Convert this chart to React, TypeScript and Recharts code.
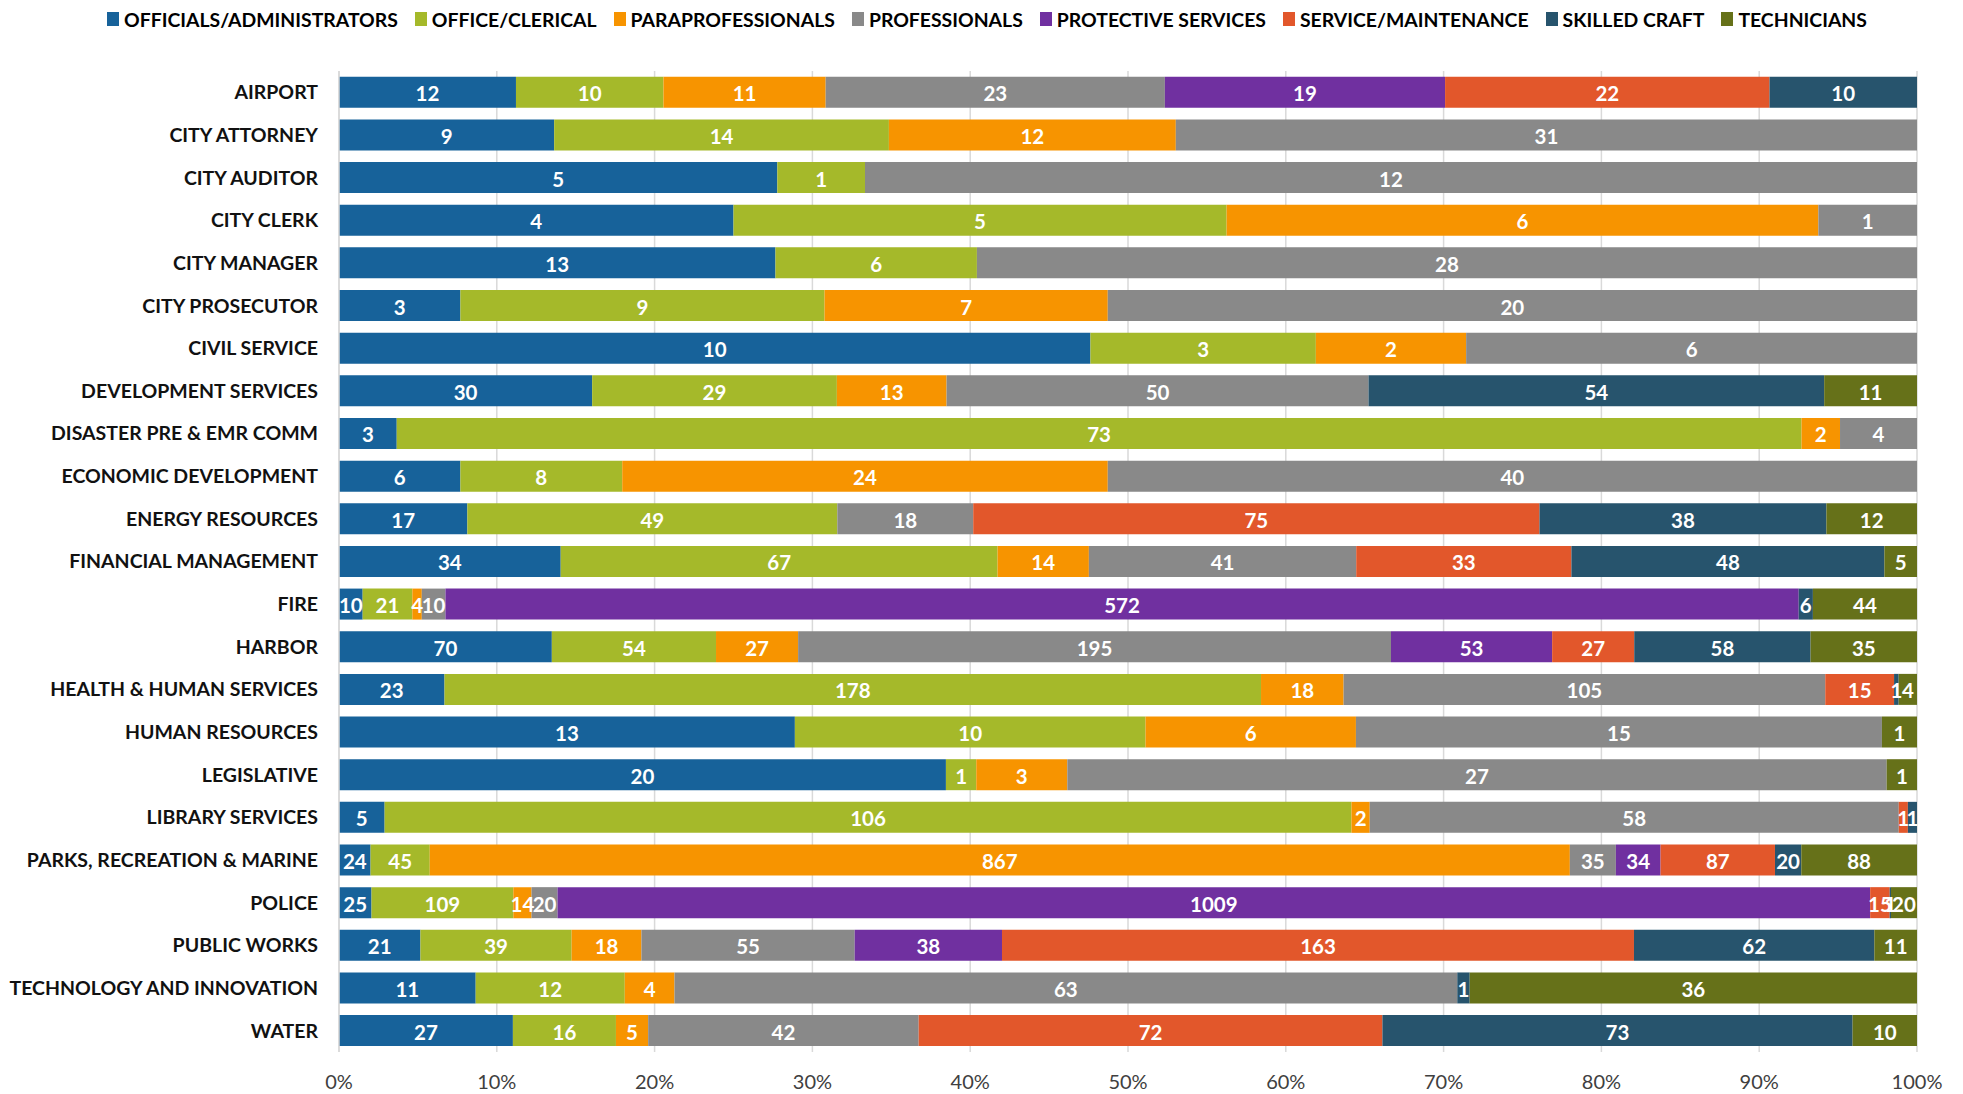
import React from "react";
import { BarChart, Bar, XAxis, YAxis, CartesianGrid, Legend, LabelList } from "recharts";

const categories = [
  "AIRPORT", "CITY ATTORNEY", "CITY AUDITOR", "CITY CLERK", "CITY MANAGER", "CITY PROSECUTOR",
  "CIVIL SERVICE", "DEVELOPMENT SERVICES", "DISASTER PRE & EMR COMM", "ECONOMIC DEVELOPMENT",
  "ENERGY RESOURCES", "FINANCIAL MANAGEMENT", "FIRE", "HARBOR", "HEALTH & HUMAN SERVICES",
  "HUMAN RESOURCES", "LEGISLATIVE", "LIBRARY SERVICES", "PARKS, RECREATION & MARINE", "POLICE",
  "PUBLIC WORKS", "TECHNOLOGY AND INNOVATION", "WATER",
];

const officials = [12, 9, 5, 4, 13, 3, 10, 30, 3, 6, 17, 34, 10, 70, 23, 13, 20, 5, 24, 25, 21, 11, 27];
const office = [10, 14, 1, 5, 6, 9, 3, 29, 73, 8, 49, 67, 21, 54, 178, 10, 1, 106, 45, 109, 39, 12, 16];
const paraprofessionals = [11, 12, 0, 6, 0, 7, 2, 13, 2, 24, 0, 14, 4, 27, 18, 6, 3, 2, 867, 14, 18, 4, 5];
const professionals = [23, 31, 12, 1, 28, 20, 6, 50, 4, 40, 18, 41, 10, 195, 105, 15, 27, 58, 35, 20, 55, 63, 42];
const protective = [19, 0, 0, 0, 0, 0, 0, 0, 0, 0, 0, 0, 572, 53, 0, 0, 0, 0, 34, 1009, 38, 0, 0];
const service = [22, 0, 0, 0, 0, 0, 0, 0, 0, 0, 75, 33, 0, 27, 15, 0, 0, 1, 87, 15, 163, 0, 72];
const skilled = [10, 0, 0, 0, 0, 0, 0, 54, 0, 0, 38, 48, 6, 58, 1, 0, 0, 1, 20, 1, 62, 1, 73];
const technicians = [0, 0, 0, 0, 0, 0, 0, 11, 0, 0, 12, 5, 44, 35, 4, 1, 1, 0, 88, 20, 11, 36, 10];

const xTicks = [0, 0.1, 0.2, 0.3, 0.4, 0.5, 0.6, 0.7, 0.8, 0.9, 1];

const seriesDefs = [
  { key: "officials", name: "OFFICIALS/ADMINISTRATORS", color: "#17629A", values: officials },
  { key: "office", name: "OFFICE/CLERICAL", color: "#A5B92A", values: office },
  { key: "para", name: "PARAPROFESSIONALS", color: "#F79400", values: paraprofessionals },
  { key: "prof", name: "PROFESSIONALS", color: "#898989", values: professionals },
  { key: "protective", name: "PROTECTIVE SERVICES", color: "#7030A0", values: protective },
  { key: "service", name: "SERVICE/MAINTENANCE", color: "#E2572B", values: service },
  { key: "skilled", name: "SKILLED CRAFT", color: "#27546D", values: skilled },
  { key: "tech", name: "TECHNICIANS", color: "#667119", values: technicians },
];

const data = categories.map((name, i) => {
  const row: Record<string, any> = { name };
  seriesDefs.forEach((s) => {
    row[s.key] = s.values[i];
  });
  return row;
});

const FONT = "Lato, 'Open Sans', sans-serif";

const renderLabel = (props: any) => {
  const { x, y, width, height, value } = props;
  if (!value) return null;
  return (
    <text
      x={Number(x) + Number(width) / 2}
      y={Number(y) + Number(height) / 2 + 1}
      fill="#FFFFFF"
      textAnchor="middle"
      dominantBaseline="central"
      fontFamily={FONT}
      fontWeight="bold"
      fontSize={20.5}
    >
      {value}
    </text>
  );
};

const renderLegend = () => (
  <div
    style={{
      display: "flex",
      justifyContent: "center",
      alignItems: "center",
      height: 22,
      paddingLeft: 28,
      fontFamily: FONT,
      fontWeight: "bold",
      fontSize: 19.4,
      color: "#000000",
      whiteSpace: "nowrap",
    }}
  >
    {seriesDefs.map((s) => (
      <div key={s.key} style={{ display: "flex", alignItems: "center", marginRight: 17 }}>
        <span style={{ display: "inline-block", width: 12, height: 14, background: s.color, marginRight: 5 }} />
        <span>{s.name}</span>
      </div>
    ))}
  </div>
);

export default function App() {
  return (
    <div style={{ width: 1947, height: 1086 }}>
      <BarChart
        width={1947}
        height={1086}
        data={data}
        layout="vertical"
        stackOffset="expand"
        barCategoryGap="13.5%"
        margin={{ top: 41, right: 38, bottom: 12, left: 0 }}
      >
        <CartesianGrid horizontal={false} vertical={true} stroke="#D9D9D9" strokeWidth={1.5} />
        <XAxis
          type="number"
          domain={[0, 1]}
          ticks={xTicks}
          tickFormatter={(v: number) => `${Math.round(v * 100)}%`}
          axisLine={false}
          tickLine={false}
          tickSize={0}
          tickMargin={23}
          height={30}
          tick={{ fontFamily: FONT, fontSize: 20, fill: "#404040" }}
          interval={0}
        />
        <YAxis
          type="category"
          dataKey="name"
          width={331}
          axisLine={{ stroke: "#D9D9D9", strokeWidth: 1.5 }}
          tickLine={false}
          tickSize={0}
          tickMargin={21}
          interval={0}
          tick={{ fontFamily: FONT, fontSize: 19.5, fontWeight: "bold", fill: "#111111" }}
        />
        <Legend verticalAlign="top" content={renderLegend} wrapperStyle={{ top: 0, left: 0, width: 1947, height: 22 }} />
        {seriesDefs.map((s) => (
          <Bar key={s.key} dataKey={s.key} name={s.name} stackId="a" fill={s.color} isAnimationActive={false}>
            <LabelList dataKey={s.key} content={renderLabel} />
          </Bar>
        ))}
      </BarChart>
    </div>
  );
}
